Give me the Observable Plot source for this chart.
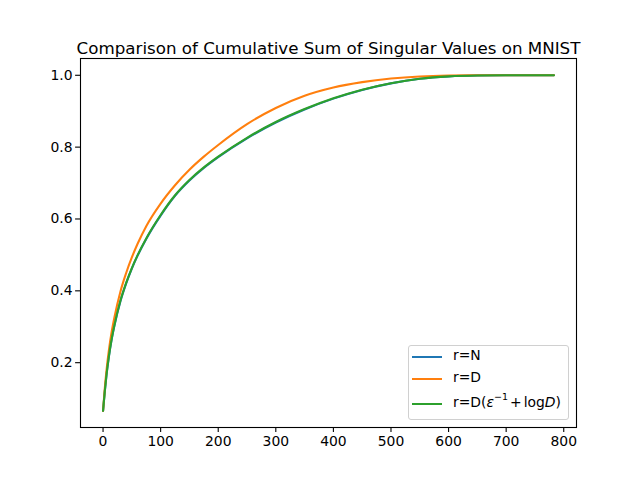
<!DOCTYPE html>
<html>
<head>
<meta charset="utf-8">
<script src="https://cdn.jsdelivr.net/npm/d3@7"></script>
<script src="https://cdn.jsdelivr.net/npm/@observablehq/plot@0.6"></script>
<style>
  body { margin: 0; background: #fff; font-family: "DejaVu Sans", sans-serif; }
  #wrap { position: relative; width: 640px; height: 480px; }
  .legend {
    position: absolute; left: 408px; top: 345px; width: 159px; height: 73px;
    border: 1px solid #d0d0d0; border-radius: 3px; background: rgba(255,255,255,0.8);
    font-size: 13.9px; color: #000;
  }
  .swatch { position: absolute; left: 3px; width: 30px; height: 2px; }
  .lab { position: absolute; left: 44px; white-space: nowrap; line-height: 1; transform-origin: left center; }
  .lab sup { font-size: 9.5px; position: relative; top: -1px; line-height: 0; }
  .lab .op { margin: 0 2px; }
</style>
</head>
<body>
<div id="wrap"></div>
<script>
// Number of singular values kept (k) and the normalised cumulative sums
const steps   = [0, 3, 6, 10, 15, 20, 30, 40, 50, 60, 75, 100, 125, 150, 175, 200, 250, 300, 350, 400, 450, 500, 550, 600, 650, 700, 783];
const sumN    = [0.066, 0.119, 0.1655, 0.2150, 0.2650, 0.3050, 0.3700, 0.4200, 0.4620, 0.4980, 0.5445, 0.6095, 0.6645, 0.7070, 0.7420, 0.7720, 0.8245, 0.8685, 0.9048, 0.9350, 0.9592, 0.9775, 0.9902, 0.9968, 0.9994, 1.0, 1.0];
const sumD    = [0.066, 0.128, 0.179, 0.233, 0.286, 0.328, 0.397, 0.449, 0.493, 0.531, 0.580, 0.643, 0.694, 0.737, 0.7735, 0.806, 0.864, 0.909, 0.943, 0.966, 0.981, 0.991, 0.9968, 0.9993, 1.0, 1.0, 1.0];
const sumDeps = [0.066, 0.120, 0.1665, 0.2165, 0.2665, 0.3065, 0.3715, 0.4215, 0.4635, 0.4995, 0.546, 0.611, 0.666, 0.7085, 0.7435, 0.7735, 0.826, 0.870, 0.906, 0.936, 0.960, 0.978, 0.9905, 0.997, 0.9995, 1.0, 1.0];

const seriesNames  = ["r=N", "r=D", "r=D(eps)"];
const seriesColors = ["#1f77b4", "#ff7f0e", "#2ca02c"];
const xTicks = [0, 100, 200, 300, 400, 500, 600, 700, 800];
const yTicks = [0.2, 0.4, 0.6, 0.8, 1.0];
const titleText = "Comparison of Cumulative Sum of Singular Values on MNIST";

// long-format table for the line mark
const seriesValues = [sumN, sumD, sumDeps];
const rows = seriesNames.flatMap((name, i) =>
  steps.map((k, j) => ({ k, v: seriesValues[i][j], series: name }))
);

const lw = 2.08;
const chart = Plot.plot({
  width: 640,
  height: 480,
  marginLeft: 80,
  marginRight: 64,
  marginTop: 58,
  marginBottom: 53,
  style: { fontFamily: "DejaVu Sans, sans-serif", fontSize: "13.9px", color: "#000", background: "#fff" },
  x: { domain: [-39.15, 822.15] },
  y: { domain: [0.0196, 1.0467] },
  color: { domain: seriesNames, range: seriesColors },
  marks: [
    Plot.line(rows, { x: "k", y: "v", z: "series", stroke: "series", strokeWidth: lw, curve: "monotone-x" }),
    Plot.frame({ stroke: "#000", strokeWidth: 1.1 }),
    Plot.axisX({ ticks: xTicks, tickSize: 4.9, tickPadding: 4, label: null, fontSize: 13.9, strokeWidth: 1.1 }),
    Plot.axisY({ ticks: yTicks, tickSize: 4.9, tickPadding: 3, tickFormat: d3.format(".1f"), label: null, fontSize: 13.9, strokeWidth: 1.1 }),
    Plot.text([titleText], { frameAnchor: "top", dy: -16, fontSize: 16.7, text: d => d, fill: "#000" })
  ]
});

const wrap = document.getElementById("wrap");
wrap.appendChild(chart);

// legend box
const legend = document.createElement("div");
legend.className = "legend";
const entryTops = [11, 33, 58];
const labelsHtml = [
  "r=N",
  "r=D",
  "r=D(<i>ε</i><sup>−1</sup><span class=\"op\">+</span>log<i>D</i>)"
];
const labelEls = [];
seriesNames.forEach((name, i) => {
  const sw = document.createElement("div");
  sw.className = "swatch";
  sw.style.top = (entryTops[i] - 1) + "px";
  sw.style.background = seriesColors[i];
  legend.appendChild(sw);
  const lab = document.createElement("div");
  lab.className = "lab";
  lab.style.top = (entryTops[i] - 8) + "px";
  lab.innerHTML = labelsHtml[i];
  legend.appendChild(lab);
  labelEls.push(lab);
});
wrap.appendChild(legend);

// keep the formula label inside the legend box
const maxLabelWidth = 110;
const formula = labelEls[2];
const w = formula.getBoundingClientRect().width;
if (w > maxLabelWidth) formula.style.transform = `scaleX(${maxLabelWidth / w})`;
</script>
</body>
</html>
